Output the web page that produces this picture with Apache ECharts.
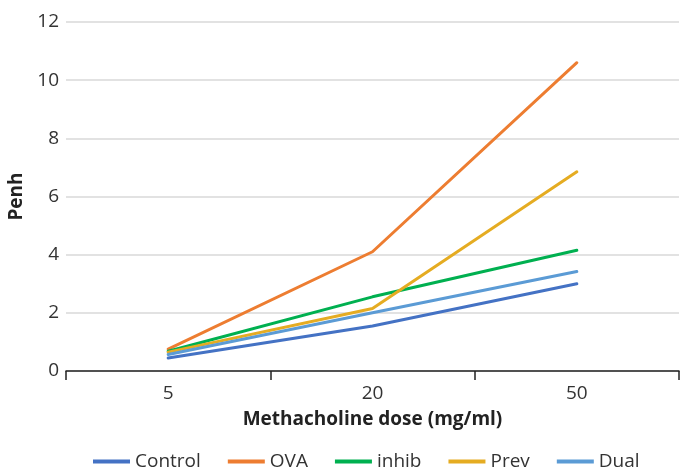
<!DOCTYPE html>
<html><head><meta charset="utf-8">
<script src="https://cdn.jsdelivr.net/npm/echarts@6/dist/echarts.min.js"></script>
<style>html,body{margin:0;padding:0;background:#fff}#c{width:680px;height:471px}</style>
</head><body><div id="c"></div>
<script>
const categories = ['5', '20', '50'];
const control = [0.45, 1.55, 3.0];
const ova = [0.75, 4.1, 10.6];
const inhib = [0.68, 2.55, 4.15];
const prev = [0.65, 2.15, 6.85];
const dual = [0.57, 2.0, 3.42];
const yTicks = [0, 2, 4, 6, 8, 10, 12];

const names = ['Control', 'OVA', 'inhib', 'Prev', 'Dual'];
const colors = ['#4472c4', '#ed7d31', '#00b050', '#e5ac22', '#5b9bd5'];
const dataSets = [control, ova, inhib, prev, dual];
const font = 'Open Sans';

const chart = echarts.init(document.getElementById('c'));
chart.setOption({
  animation: false,
  grid: { left: 66, right: 1, top: 22, bottom: 100, outerBoundsMode: 'none', containLabel: false },
  legend: {
    bottom: -5, left: 88, itemWidth: 37, itemHeight: 4, itemGap: 27,
    icon: 'rect',
    textStyle: { fontSize: 19, color: '#333', fontFamily: font },
    data: names
  },
  xAxis: {
    type: 'category', data: categories, boundaryGap: true,
    name: 'Methacholine dose (mg/ml)', nameLocation: 'middle', nameGap: 39,
    nameTextStyle: { fontSize: 19, fontWeight: 'bold', color: '#222', fontFamily: font },
    axisLine: { lineStyle: { color: '#222', width: 1.5 } },
    axisTick: { show: true, length: 9, lineStyle: { color: '#222', width: 1.5 } },
    axisLabel: { fontSize: 19, color: '#333', margin: 13, fontFamily: font }
  },
  yAxis: {
    type: 'value', min: yTicks[0], max: yTicks[yTicks.length - 1], interval: 2,
    name: 'Penh', nameLocation: 'middle', nameGap: 37,
    nameTextStyle: { fontSize: 19, fontWeight: 'bold', color: '#222', fontFamily: font },
    axisLine: { show: false }, axisTick: { show: false },
    axisLabel: { fontSize: 19, color: '#333', margin: 7, fontFamily: font },
    splitLine: { lineStyle: { color: '#d9d9d9', width: 1.5 } }
  },
  series: names.map((n, i) => ({
    name: n, type: 'line', data: dataSets[i], symbol: 'none',
    lineStyle: { color: colors[i], width: 3, cap: 'round' },
    itemStyle: { color: colors[i] }
  }))
});
</script></body></html>
